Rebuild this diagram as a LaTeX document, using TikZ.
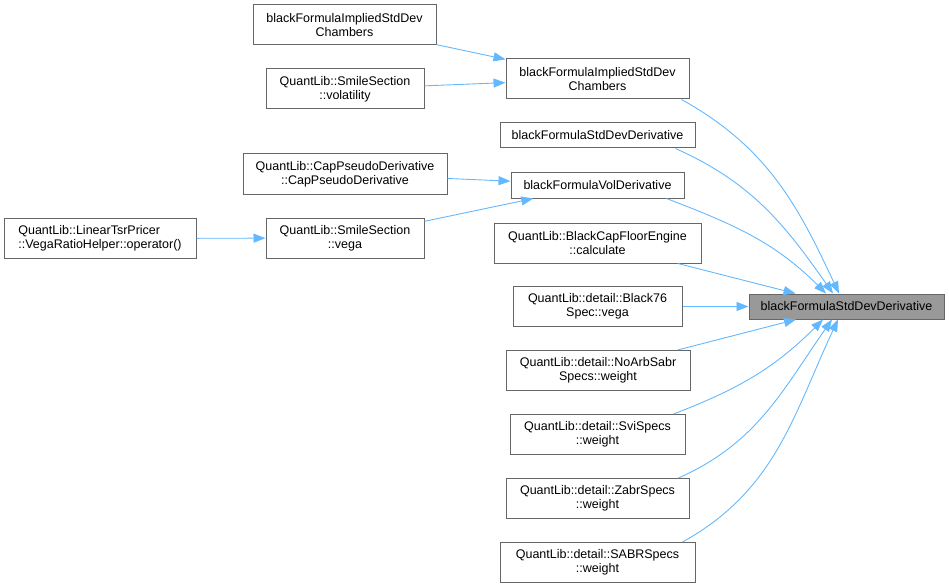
\documentclass[tikz,border=0pt]{standalone}
\usepackage{fontspec}
\setmainfont{Liberation Sans}
\usetikzlibrary{arrows.meta}
\definecolor{edgeblue}{RGB}{99,184,255}
\definecolor{boxgray}{RGB}{102,102,102}
\definecolor{targetgray}{RGB}{153,153,153}

\begin{document}
\begin{tikzpicture}[x=1pt,y=-1pt,
  fn/.style    ={draw=boxgray, line width=1pt, fill=white, inner sep=0pt, align=center,
                 font=\fontsize{12.5}{14}\selectfont},
  two/.style   ={fn, minimum height=40pt},
  one/.style   ={fn, minimum height=25pt},
  target/.style={fn, fill=targetgray, minimum height=25pt},
  call/.style  ={draw=edgeblue, line width=0.9pt, -{Triangle[length=12pt,width=9pt]}}]

  \useasboundingbox (0,0) rectangle (949,588);

  % left column
  \node[two, minimum width=183pt] (chambL) at (344.5,25)  {blackFormulaImpliedStdDev\\Chambers};
  \node[two, minimum width=158pt] (vol)    at (345,89)    {QuantLib::SmileSection\\::volatility};
  \node[two, minimum width=204pt] (cappd)  at (345,174)   {QuantLib::CapPseudoDerivative\\::CapPseudoDerivative};
  \node[two, minimum width=158pt] (vega)   at (345,238)   {QuantLib::SmileSection\\::vega};
  \node[two, minimum width=192pt, align=left] (tsr) at (100,238.5) {QuantLib::LinearTsrPricer\\::VegaRatioHelper::operator()};

  % middle column : direct callers
  \node[two, minimum width=183pt] (chambM) at (597.5,79)  {blackFormulaImpliedStdDev\\Chambers};
  \node[one, minimum width=195pt] (sdd)    at (597.5,135.5) {blackFormulaStdDevDerivative};
  \node[one, minimum width=173pt, minimum height=26pt] (volder) at (597.5,185) {blackFormulaVolDerivative};
  \node[two, minimum width=207pt] (bcfe)   at (597.5,243) {QuantLib::BlackCapFloorEngine\\::calculate};
  \node[two, minimum width=169pt] (b76)    at (597.5,306.5) {QuantLib::detail::Black76\\Spec::vega};
  \node[two, minimum width=184pt] (noarb)  at (598,370.5) {QuantLib::detail::NoArbSabr\\Specs::weight};
  \node[two, minimum width=175pt] (svi)    at (597.5,434.5) {QuantLib::detail::SviSpecs\\::weight};
  \node[two, minimum width=183pt] (zabr)   at (597.5,498.5) {QuantLib::detail::ZabrSpecs\\::weight};
  \node[two, minimum width=195pt] (sabr)   at (597.5,562.5) {QuantLib::detail::SABRSpecs\\::weight};

  % the function itself
  \node[target, minimum width=195pt] (target) at (846.5,306.5) {blackFormulaStdDevDerivative};

  % straight calls
  \foreach \a/\b in {chambL/chambM, vol/chambM, cappd/volder, vega/volder, tsr/vega,
                     bcfe/target, b76/target, noarb/target}
    \draw[call] (\a) -- (\b);

  % curved calls into the top and bottom of the target
  \foreach \src/\sx/\tx/\o/\i in {chambM/-8/-7.5/-29/115, sdd/-20/-13.5/-24/125, volder/-18/-20.5/-21/135}
    \draw[call] ([xshift=\sx pt]\src.south east) to[out=\o,in=\i] ([xshift=\tx pt]target.north);
  \foreach \src/\sx/\tx/\o/\i in {svi/-12/-23.5/21/-135, zabr/-11/-14.5/24/-125, sabr/-13/-8.5/29/-115}
    \draw[call] ([xshift=\sx pt]\src.north east) to[out=\o,in=\i] ([xshift=\tx pt]target.south);
\end{tikzpicture}
\end{document}
